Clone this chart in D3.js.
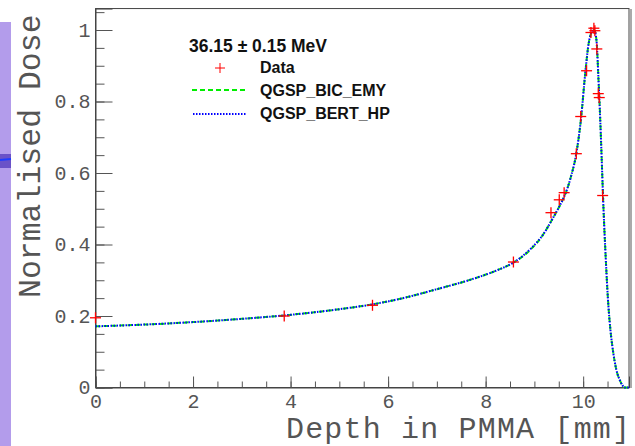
<!DOCTYPE html>
<html>
<head>
    <title>Bragg peak - 36.15 MeV in PMMA</title>
    <style>
        body {
            margin: 0;
            background: #fff;
        }
        .tick text {
            font-family: "Courier New", "Liberation Mono", monospace;
            font-size: 20px;
            fill: #555;
        }
        .axis-title {
            font-family: "Courier New", "Liberation Mono", monospace;
            font-size: 31.5px;
            fill: #555;
        }
        .legend text {
            font-family: "Liberation Sans", Arial, sans-serif;
            font-weight: bold;
            fill: #111;
        }
    </style>
    <script src="https://d3js.org/d3.v7.min.js"></script>
</head>
<body>
<div id="chart"></div>
<script>
    const width = 635,
            height = 446;

    // measured data points (red crosses)
    const dataDepth = [0.0, 3.87, 5.68, 8.57, 9.34, 9.51, 9.61, 9.86, 9.95, 10.07, 10.16, 10.22, 10.24, 10.28, 10.31, 10.33, 10.40];
    const dataDose  = [0.195, 0.200, 0.230, 0.351, 0.489, 0.525, 0.545, 0.654, 0.758, 0.886, 0.993, 1.005, 0.998, 0.947, 0.822, 0.811, 0.537];

    // simulation curves
    const simDepth = [0, 1, 2, 3, 3.9, 5, 5.7, 6.4, 7.0, 7.7, 8.2, 8.6, 8.9, 9.2, 9.36, 9.53, 9.63, 9.75, 9.86, 9.96,
                      10.04, 10.11, 10.17, 10.22, 10.26, 10.28, 10.31, 10.35, 10.38, 10.41, 10.46, 10.51, 10.56, 10.61,
                      10.68, 10.76, 10.86, 10.94];
    const bicDose  = [0.171, 0.176, 0.183, 0.192, 0.202, 0.219, 0.233, 0.253, 0.275, 0.302, 0.326, 0.352, 0.383, 0.432,
                      0.469, 0.511, 0.540, 0.590, 0.655, 0.757, 0.875, 0.960, 0.993, 1.000, 0.985, 0.960, 0.875, 0.750,
                      0.640, 0.525, 0.370, 0.244, 0.160, 0.104, 0.050, 0.018, 0.000, 0.000];
    const bertDose = [0.171, 0.176, 0.183, 0.192, 0.202, 0.219, 0.233, 0.253, 0.275, 0.302, 0.326, 0.352, 0.385, 0.432,
                      0.469, 0.511, 0.540, 0.590, 0.655, 0.757, 0.875, 0.960, 0.993, 1.000, 0.985, 0.960, 0.875, 0.750,
                      0.640, 0.525, 0.370, 0.244, 0.160, 0.104, 0.050, 0.018, 0.000, 0.000];

    const legendTitle = "36.15 \u00b1 0.15 MeV";
    const legendNames = ["Data", "QGSP_BIC_EMY", "QGSP_BERT_HP"];

    const x = d3.scaleLinear().domain([0, 10.94]).range([95.5, 629]);
    const y = d3.scaleLinear().domain([0, 1.06]).range([387.5, 8.55]);

    const svg = d3.select('#chart').append('svg')
            .attr('width', width)
            .attr('height', height);

    // bit of the neighbouring figure on the left edge
    svg.append('rect').attr('x', 0).attr('y', 22).attr('width', 11).attr('height', height - 22).attr('fill', '#b39ceb');
    svg.append('rect').attr('x', 0).attr('y', 154).attr('width', 11).attr('height', 14).attr('fill', '#6a52c8');
    svg.append('line').attr('x1', 0).attr('x2', 11).attr('y1', 160).attr('y2', 159)
            .attr('stroke', '#1f3cff').attr('stroke-width', 2);

    // frame
    svg.append('rect')
            .attr('x', x.range()[0]).attr('y', y.range()[1])
            .attr('width', x.range()[1] - x.range()[0])
            .attr('height', y.range()[0] - y.range()[1])
            .attr('fill', 'none').attr('stroke', '#444').attr('stroke-width', 1);
    svg.append('line').attr('x1', 631).attr('x2', 631).attr('y1', 9).attr('y2', 388)
            .attr('stroke', '#aaa').attr('stroke-width', 2);

    // x axis: minor + major ticks pointing inward
    const xMinor = d3.range(0, 10.95, 0.5);
    svg.append('g').attr('transform', `translate(0,${y.range()[0]})`)
            .call(d3.axisBottom(x).tickValues(xMinor).tickSize(-6).tickFormat(''))
            .call(g => g.select('.domain').remove())
            .call(g => g.selectAll('line').attr('stroke', '#555'));
    svg.append('g').attr('transform', `translate(0,${y.range()[0]})`)
            .call(d3.axisBottom(x).tickValues([0, 2, 4, 6, 8, 10]).tickSize(-11).tickPadding(6).tickFormat(d3.format('d')))
            .call(g => g.select('.domain').attr('stroke', '#444'))
            .call(g => g.selectAll('line').attr('stroke', '#555'));

    // y axis
    const yMinor = d3.range(0, 1.051, 0.05);
    svg.append('g').attr('transform', `translate(${x.range()[0]},0)`)
            .call(d3.axisLeft(y).tickValues(yMinor).tickSize(-9).tickFormat(''))
            .call(g => g.select('.domain').remove())
            .call(g => g.selectAll('line').attr('stroke', '#555'));
    svg.append('g').attr('transform', `translate(${x.range()[0]},0)`)
            .call(d3.axisLeft(y).tickValues([0, 0.2, 0.4, 0.6, 0.8, 1]).tickSize(-17).tickPadding(5)
                    .tickFormat(d => d === 0 || d === 1 ? String(d) : d3.format('.1f')(d)))
            .call(g => g.select('.domain').attr('stroke', '#444'))
            .call(g => g.selectAll('line').attr('stroke', '#555'));

    // axis titles
    svg.append('text').attr('class', 'axis-title')
            .attr('x', 630).attr('y', 437.5)
            .attr('text-anchor', 'end')
            .style('font-size', '30px')
            .attr('textLength', 344)
            .attr('lengthAdjust', 'spacing')
            .text('Depth in PMMA [mm]');
    svg.append('text').attr('class', 'axis-title')
            .attr('transform', 'translate(40,298) rotate(-90)')
            .attr('text-anchor', 'start')
            .text('Normalised Dose');

    // curves
    const line = d3.line()
            .x(d => x(d[0]))
            .y(d => y(d[1]))
            .curve(d3.curveMonotoneX);

    svg.append('path')
            .datum(d3.zip(simDepth, bicDose))
            .attr('d', line)
            .attr('fill', 'none')
            .attr('stroke', '#00ee00')
            .attr('stroke-width', 2)
            .attr('stroke-dasharray', '5,3');

    svg.append('path')
            .datum(d3.zip(simDepth, bertDose))
            .attr('d', line)
            .attr('fill', 'none')
            .attr('stroke', '#0000ff')
            .attr('stroke-width', 2)
            .attr('stroke-dasharray', '1.5,1.5');

    // data crosses
    const cross = (g, cx, cy, s) => {
        g.append('line').attr('x1', cx - s).attr('x2', cx + s).attr('y1', cy).attr('y2', cy);
        g.append('line').attr('x1', cx).attr('x2', cx).attr('y1', cy - s).attr('y2', cy + s);
    };
    const pts = svg.append('g').attr('stroke', '#ff0000').attr('stroke-width', 1.3);
    d3.zip(dataDepth, dataDose).forEach(d => cross(pts, x(d[0]), y(d[1]), 5.5));

    // legend
    const leg = svg.append('g').attr('class', 'legend');
    leg.append('text').attr('x', 189).attr('y', 51.5).style('font-size', '17.5px').text(legendTitle);
    const rows = [73, 96, 119];
    legendNames.forEach((name, i) => {
        leg.append('text').attr('x', 260).attr('y', rows[i]).style('font-size', '16px').text(name);
    });
    const lc = leg.append('g').attr('stroke', '#ff0000').attr('stroke-width', 1);
    cross(lc, 220, 68, 5);
    leg.append('line').attr('x1', 192).attr('x2', 247).attr('y1', 90).attr('y2', 90)
            .attr('stroke', '#00ee00').attr('stroke-width', 2).attr('stroke-dasharray', '5,3');
    leg.append('line').attr('x1', 193).attr('x2', 247).attr('y1', 114).attr('y2', 114)
            .attr('stroke', '#0000ff').attr('stroke-width', 2).attr('stroke-dasharray', '1.5,1.5');
</script>
</body>
</html>
